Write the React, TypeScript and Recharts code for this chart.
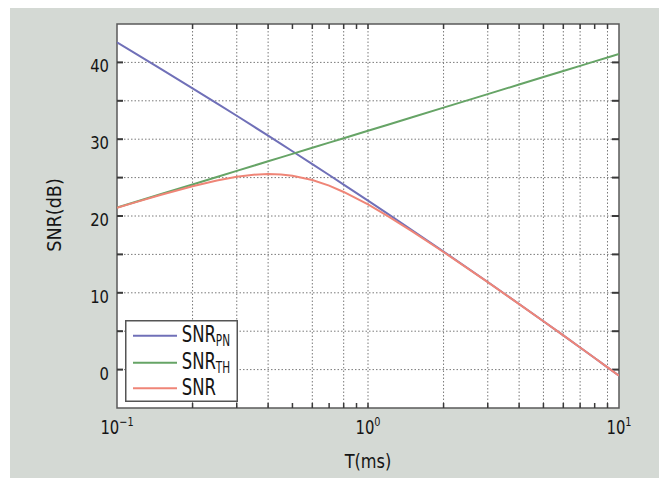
import { LineChart, Line, XAxis, YAxis, CartesianGrid, ReferenceLine, ReferenceArea } from 'recharts';

// T in ms (log axis), SNR values in dB
const T_MS = [0.1, 0.12, 0.15, 0.2, 0.25, 0.3, 0.35, 0.4, 0.45, 0.5, 0.6, 0.7, 0.8, 1, 1.2, 1.5, 2, 3, 4, 5, 6, 7, 8, 9, 10];
const SNR_PN = [42.6, 41.05, 39.13, 36.63, 34.67, 33.05, 31.66, 30.46, 29.39, 28.43, 26.76, 25.34, 24.09, 22.0, 20.27, 18.14, 15.37, 11.4, 8.54, 6.29, 4.45, 2.88, 1.51, 0.29, -0.8];
const SNR_TH = [21.1, 21.89, 22.86, 24.11, 25.08, 25.87, 26.54, 27.12, 27.63, 28.09, 28.88, 29.55, 30.13, 31.1, 31.89, 32.86, 34.11, 35.87, 37.12, 38.09, 38.88, 39.55, 40.13, 40.64, 41.1];
const SNR_ALL = [21.07, 21.84, 22.76, 23.87, 24.63, 25.11, 25.38, 25.47, 25.41, 25.25, 24.68, 23.95, 23.13, 21.5, 19.98, 18.0, 15.31, 11.39, 8.53, 6.29, 4.45, 2.88, 1.51, 0.29, -0.8];

const X_TICKS = [0.1, 1, 10];
const X_GRID = [0.2, 0.3, 0.4, 0.5, 0.6, 0.7, 0.8, 0.9, 1, 2, 3, 4, 5, 6, 7, 8, 9];
const Y_TICKS = [0, 10, 20, 30, 40];
const Y_GRID = [0, 5, 10, 15, 20, 25, 30, 35, 40];

const SERIES = [
  { key: 'pn', name: 'SNR', sub: 'PN', color: '#7070b8' },
  { key: 'th', name: 'SNR', sub: 'TH', color: '#66a466' },
  { key: 'snr', name: 'SNR', sub: '', color: '#ef8577' },
];

const data = T_MS.map((t, i) => ({ t, pn: SNR_PN[i], th: SNR_TH[i], snr: SNR_ALL[i] }));

const FONT = 'DejaVu Sans, sans-serif';
const TEXT = '#151515';

function XTick({ x, y, payload }: any) {
  const exp = Math.round(Math.log10(payload.value));
  const expLabel = String(exp).replace('-', '\u2212');
  return (
    <text transform={`translate(${x},${y}) scale(0.78,1)`} textAnchor="middle" fontFamily={FONT} fontSize={19} fill={TEXT}>
      <tspan>10</tspan>
      <tspan dy={-8.5} fontSize={12.5}>{expLabel}</tspan>
    </text>
  );
}

function YTick({ x, y, payload }: any) {
  return (
    <text transform={`translate(${x},${y + 10}) scale(0.8,1)`} textAnchor="end" fontFamily={FONT} fontSize={18.5} fill={TEXT}>
      {payload.value}
    </text>
  );
}

function XLabel({ viewBox }: any) {
  const cx = viewBox.x + viewBox.width / 2;
  return (
    <text transform={`translate(${cx},${viewBox.y + 60}) scale(0.81,1)`} textAnchor="middle" fontFamily={FONT} fontSize={20} fill={TEXT}>
      T(ms)
    </text>
  );
}

function YLabel({ viewBox }: any) {
  const cy = viewBox.y + viewBox.height / 2 - 1;
  return (
    <text transform={`translate(${viewBox.x + 43.7},${cy}) rotate(-90) scale(0.88,1)`} textAnchor="middle" fontFamily={FONT} fontSize={20} fill={TEXT}>
      SNR(dB)
    </text>
  );
}

// short tick marks drawn inward on the plot edges
function vTicks(p: any) {
  const top = Math.min(p.y1, p.y2);
  const bot = Math.max(p.y1, p.y2);
  return (
    <g stroke="#3a3a3a" strokeWidth={1.5}>
      <line x1={p.x1} x2={p.x1} y1={top} y2={top + 5} />
      <line x1={p.x1} x2={p.x1} y1={bot} y2={bot - 5} />
    </g>
  );
}

function hTicks(p: any) {
  const l = Math.min(p.x1, p.x2);
  const r = Math.max(p.x1, p.x2);
  return (
    <g stroke="#3a3a3a" strokeWidth={2}>
      <line x1={l} x2={l + 6} y1={p.y1} y2={p.y1} />
      <line x1={r} x2={r - 7} y1={p.y1} y2={p.y1} />
    </g>
  );
}

function LegendBox() {
  const rows = [15.7, 42.7, 68.3];
  return (
    <svg width={113} height={82} style={{ position: 'absolute', left: 115, top: 312 }}>
      <rect x={0.75} y={0.75} width={111.5} height={80.5} fill="#fff" stroke="#555" strokeWidth={1.5} />
      {SERIES.map((s, i) => (
        <g key={s.key}>
          <line x1={8} x2={52} y1={rows[i]} y2={rows[i]} stroke={s.color} strokeWidth={2} />
          <text transform={`translate(56.7,${rows[i] + 6.6}) scale(0.7,1)`} fontFamily={FONT} fontSize={23.5} fill={TEXT}>
            <tspan>{s.name}</tspan>
            {s.sub && <tspan dy={3.7} fontSize={15}>{s.sub}</tspan>}
          </text>
        </g>
      ))}
    </svg>
  );
}

export default function App() {
  return (
    <div style={{ position: 'absolute', left: 10, top: 8, width: 649, height: 470, background: '#d4d9d4' }}>
      <LineChart width={649} height={470} data={data} margin={{ top: 16, right: 40, bottom: 0, left: 7 }}>
        <CartesianGrid
          fill="#fff"
          stroke="#7a7a7a"
          strokeDasharray="1.5 2"
          verticalValues={X_GRID}
          horizontalValues={Y_GRID}
        />
        <XAxis
          dataKey="t"
          type="number"
          scale="log"
          domain={[0.1, 10]}
          allowDataOverflow
          ticks={X_TICKS}
          tick={<XTick />}
          tickLine={false}
          axisLine={false}
          tickSize={0}
          tickMargin={26}
          height={70}
          label={<XLabel />}
        />
        <YAxis
          type="number"
          domain={[-5, 45]}
          allowDataOverflow
          ticks={Y_TICKS}
          tick={<YTick />}
          tickLine={false}
          axisLine={false}
          tickSize={0}
          tickMargin={8}
          width={100}
          label={<YLabel />}
        />
        {X_GRID.map((v) => (
          <ReferenceLine key={`vx${v}`} x={v} shape={vTicks} />
        ))}
        {Y_GRID.map((v) => (
          <ReferenceLine key={`hy${v}`} y={v} shape={hTicks} />
        ))}
        <ReferenceArea x1={0.1} x2={10} y1={-5} y2={45} fill="none" stroke="#5a5a5a" strokeWidth={1.5} />
        {SERIES.map((s) => (
          <Line
            key={s.key}
            dataKey={s.key}
            type="linear"
            stroke={s.color}
            strokeWidth={2}
            dot={false}
            isAnimationActive={false}
          />
        ))}
      </LineChart>
      <LegendBox />
    </div>
  );
}
